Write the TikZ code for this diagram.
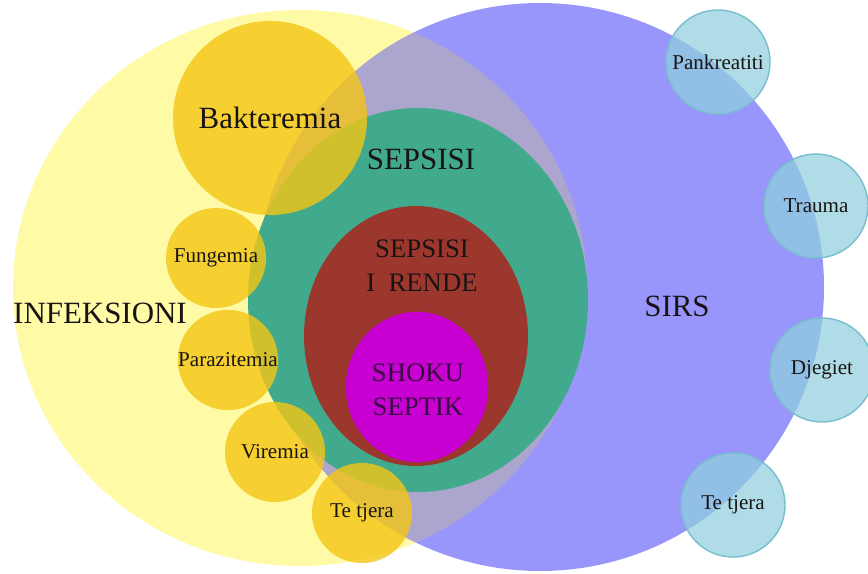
\documentclass[tikz,border=0pt]{standalone}
\usepackage{fontspec}
\setmainfont{Liberation Serif}
\usepackage[usenames,dvipsnames]{xcolor}
\definecolor{infyellow}{RGB}{255,250,165}
\definecolor{sirsblue}{RGB}{152,150,250}
\definecolor{mixgrey}{RGB}{172,165,205}
\definecolor{sepgreen}{RGB}{66,170,140}
\definecolor{rendered}{RGB}{155,55,45}
\definecolor{shokmag}{RGB}{200,0,210}
\definecolor{goldfill}{RGB}{244,198,21}
\definecolor{icefill}{RGB}{144,207,221}
\definecolor{iceline}{RGB}{120,190,205}
\definecolor{inktext}{RGB}{25,20,20}
\definecolor{shoktext}{RGB}{55,10,65}

\begin{document}
\begin{tikzpicture}[x=0.025cm, y=-0.025cm]
\tikzset{goldball/.style = {shape=circle, fill=goldfill, fill opacity=0.8, text opacity=1, text=inktext, minimum size=2.5cm, inner sep=0pt, font=\fontsize{15}{17}\selectfont}}
    \tikzset{iceball/.style = {shape=circle, fill=icefill, fill opacity=0.72, text opacity=1, text=inktext, draw=iceline, line width=1pt, minimum size=2.6cm, inner sep=0pt, font=\fontsize{15}{17}\selectfont}}
    \tikzset{bigtext/.style = {text=inktext, font=\fontsize{22}{24}\selectfont}}
    \tikzset{midtext/.style = {text=inktext, align=center, font=\fontsize{19}{24}\selectfont}}
\useasboundingbox (0,0) rectangle (868,573);

% Big regions: infection, SIRS and their overlap
\fill[infyellow] (300,288) ellipse [x radius=287, y radius=278];
\fill[sirsblue] (540,287) circle [radius=284];
\begin{scope}
\clip (300,288) ellipse [x radius=287, y radius=278];
\fill[mixgrey] (540,287) circle [radius=284];
\end{scope}

% Nested sepsis regions
\fill[sepgreen] (418,300) ellipse [x radius=170, y radius=192];
\fill[rendered] (416,336) ellipse [x radius=112, y radius=130];
\filldraw[fill=shokmag, draw=rendered, line width=1pt] (417,387) ellipse [x radius=72, y radius=76];

% Kinds of infection
\node[goldball, minimum size=4.85cm, font=\fontsize{22}{24}\selectfont] (bakt) at (270,118){Bakteremia};
\node[goldball] (fung) at (216,258){Fungemia};
\node[goldball] (para) at (228,360){Parazitemia};
\node[goldball] (vir) at (275,452){Viremia};
\node[goldball] (tjeraL) at (362,513){Te tjera};

% Causes of SIRS
\node[iceball] (pank) at (718,62){Pankreatiti};
\node[iceball] (trauma) at (816,206){Trauma};
\node[iceball] (djeg) at (822,370){Djegiet};
\node[iceball] (tjeraR) at (733,505){Te tjera};

% Region labels
\node[bigtext] (inf) at (100,313){INFEKSIONI};
\node[bigtext] (sirs) at (677,306){SIRS};
\node[bigtext] (sep) at (421,159){SEPSISI};
\node[midtext] (sepr) at (422,266){SEPSISI\\I\ \ RENDE};
\node[midtext, text=shoktext] (shok) at (418,390){SHOKU\\SEPTIK};

\end{tikzpicture}
\end{document}
